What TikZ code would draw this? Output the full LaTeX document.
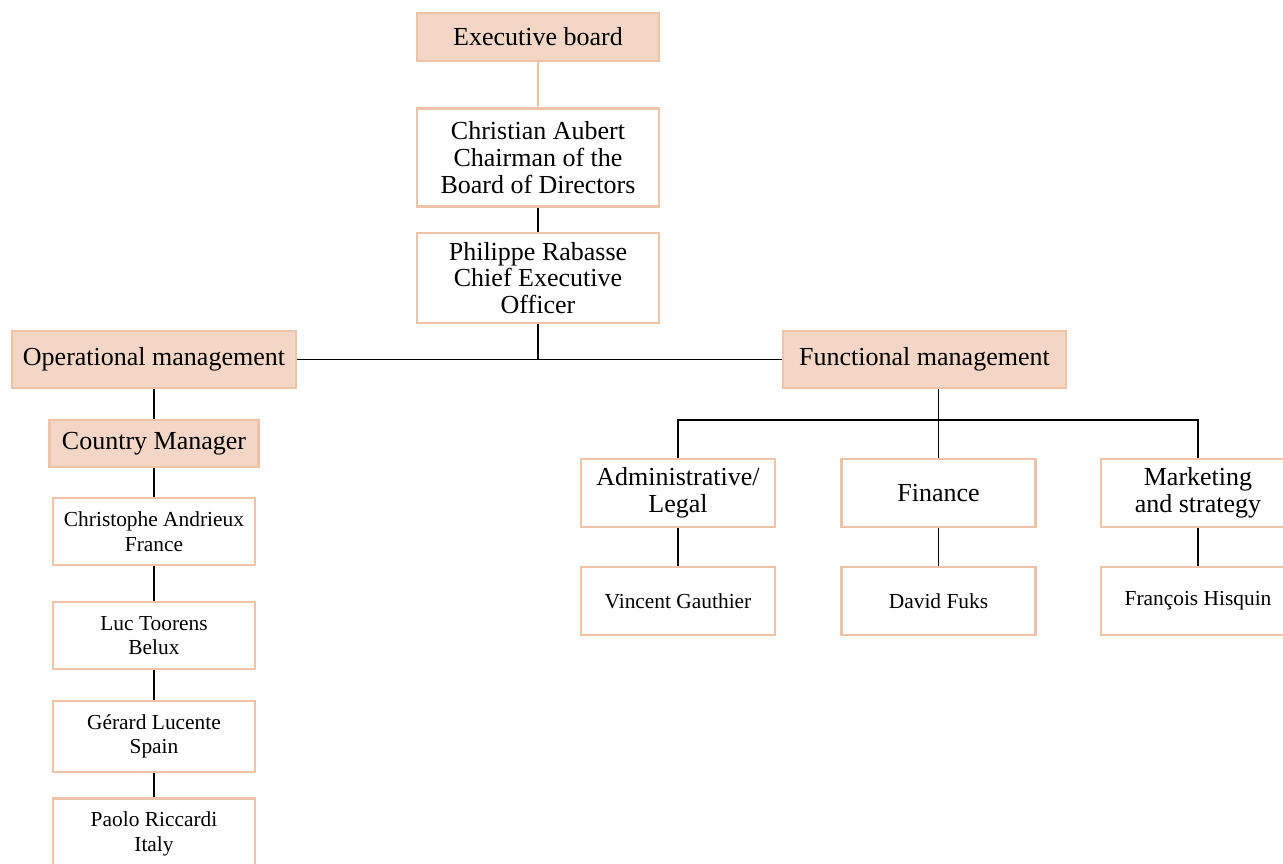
\documentclass[tikz,border=0pt]{standalone}
\usepackage{fontspec}
\setmainfont{Liberation Serif}
\definecolor{peachfill}{HTML}{F3D6C5}
\definecolor{peachline}{HTML}{EEC3A6}
\begin{document}
\begin{tikzpicture}[
	x = 0.5pt, y = -0.5pt,
	every node/.style = {draw = peachline, line width = 1.3pt, align = center, inner sep = 1pt},
	bigbox/.style = {font = \fontsize{13}{13.3}\selectfont},
	smallbox/.style = {font = \fontsize{10.7}{12.2}\selectfont},
	headbox/.style = {bigbox, fill = peachfill},
	link/.style = {black, line width = 0.7pt},
	]
	\useasboundingbox (0,0) rectangle (1283,863);

	% top of the chart
	\node[headbox, minimum width = 121pt, minimum height = 24pt] (exec) at (538,37) {Executive board};
	\node[bigbox, minimum width = 121pt, minimum height = 49pt] (chair) at (538,157.5) {Christian Aubert\\Chairman of the\\Board of Directors};
	\node[bigbox, minimum width = 121pt, minimum height = 45pt] (ceo) at (538,278) {Philippe Rabasse\\Chief Executive\\Officer};

	\node[headbox, minimum width = 142pt, minimum height = 28.5pt] (opm) at (154,359.5) {Operational management};
	\node[headbox, minimum width = 141.5pt, minimum height = 28.5pt] (fnm) at (924.5,359.5) {Functional management};

	% operational side
	\node[headbox, minimum width = 104.5pt, minimum height = 23.5pt] (cmgr) at (154,443.5) {Country Manager};
	\node[smallbox, minimum width = 101pt, minimum height = 33.5pt] (fr) at (154,531.5) {Christophe Andrieux\\France};
	\node[smallbox, minimum width = 101pt, minimum height = 33.5pt] (be) at (154,635.5) {Luc Toorens\\Belux};
	\node[smallbox, minimum width = 101pt, minimum height = 35.5pt] (es) at (154,736.5) {Gérard Lucente\\Spain};
	\node[smallbox, minimum width = 101pt, minimum height = 35.5pt] (it) at (154,834) {Paolo Riccardi\\Italy};

	% functional side
	\node[bigbox, minimum width = 97pt, minimum height = 34pt] (adm) at (678,493) {Administrative/\\Legal};
	\node[bigbox, minimum width = 97pt, minimum height = 34pt] (fin) at (938.5,493) {Finance};
	\node[bigbox, minimum width = 97pt, minimum height = 34pt] (mkt) at (1198,493) {Marketing\\and strategy};
	\node[smallbox, minimum width = 97pt, minimum height = 34pt] (vg) at (678,601) {Vincent Gauthier};
	\node[smallbox, minimum width = 97pt, minimum height = 34pt] (df) at (938.5,601) {David Fuks};
	\node[smallbox, minimum width = 97pt, minimum height = 34pt] (fh) at (1198,601) {François Hisquin};

	\coordinate (mid) at (538,359.5);
	\coordinate (bus) at (938.5,420);

	\draw[peachline, line width = 0.7pt] (exec) -- (chair);
	\draw[link] (chair) -- (ceo);
	\draw[link] (ceo) -- (mid);
	\draw[link] (opm) -- (fnm);
	\draw[link] (opm) -- (cmgr);
	\draw[link] (cmgr) -- (fr);
	\draw[link] (fr) -- (be);
	\draw[link] (be) -- (es);
	\draw[link] (es) -- (it);
	\draw[link] (fnm.south -| bus) -- (fin);
	\draw[link] (adm) |- (bus) -| (mkt);
	\draw[link] (adm) -- (vg);
	\draw[link] (fin) -- (df);
	\draw[link] (mkt) -- (fh);
\end{tikzpicture}
\end{document}
